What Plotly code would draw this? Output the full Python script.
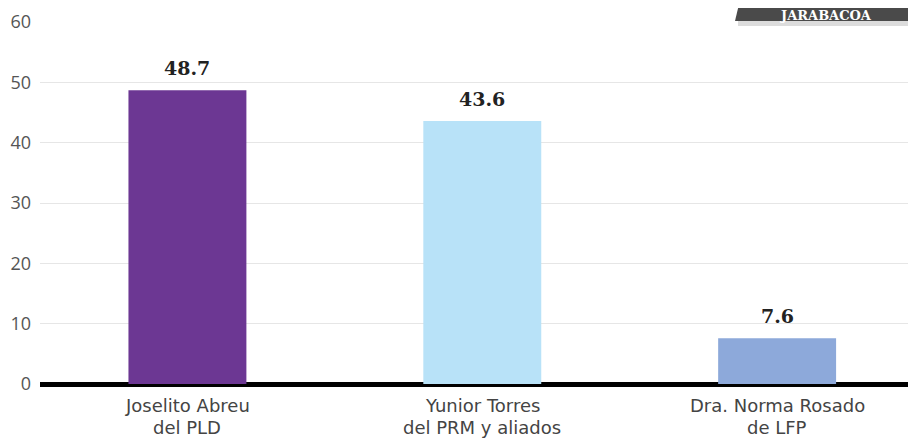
import plotly.graph_objects as go

cat_line1 = ["Joselito Abreu", "Yunior Torres", "Dra. Norma Rosado"]
cat_line2 = ["del PLD", "del PRM y aliados", "de LFP"]
values = [48.7, 43.6, 7.6]
value_labels = ["48.7", "43.6", "7.6"]
colors = ["#6C3793", "#B8E2F8", "#8DA9DA"]
y_ticks = [0, 10, 20, 30, 40, 50, 60]
badge_text = "JARABACOA"

# page body has an 8px margin: figure occupies reference pixels 8..916, 8..442
OFF = 8
W, H = 916 - OFF, 442 - OFF
L, R, T = 40 - OFF, 0, 22 - OFF
B = H - (384 - OFF)
pw, ph = W - L - R, H - T - B

def px_x(x):  # reference pixel -> paper
    return (x - OFF - L) / pw

def px_y(y):
    return (H - B - (y - OFF)) / ph

n = len(values)
fig = go.Figure()
fig.add_trace(go.Bar(
    x=list(range(n)), y=values,
    marker=dict(color=colors, line=dict(width=0)),
    width=0.4, hoverinfo="skip",
))

for i, (v, t) in enumerate(zip(values, value_labels)):
    fig.add_annotation(x=i, y=v, text="<b>%s</b>" % t, showarrow=False,
                       yanchor="bottom", yshift=9,
                       font=dict(family="DejaVu Serif", size=19, color="#222222"))

label_font = dict(family="DejaVu Sans", size=18, color="#444444")
for i in range(n):
    fig.add_annotation(x=i, xref="x", yref="paper", y=px_y(405.5), text=cat_line1[i],
                       showarrow=False, yanchor="middle", font=label_font)
    fig.add_annotation(x=i, xref="x", yref="paper", y=px_y(427), text=cat_line2[i],
                       showarrow=False, yanchor="middle", font=label_font)

# badge
fig.add_shape(type="path", xref="paper", yref="paper",
              path=f"M {px_x(738)} {px_y(26)} L {px_x(916)} {px_y(26)} L {px_x(916)} {px_y(20)} L {px_x(738)} {px_y(20)} Z",
              fillcolor="#dcdcdc", line=dict(width=0), layer="above")
fig.add_shape(type="path", xref="paper", yref="paper",
              path=f"M {px_x(735)} {px_y(21)} L {px_x(914)} {px_y(21)} L {px_x(914)} {px_y(0)} L {px_x(740)} {px_y(0)} Z",
              fillcolor="#4a4a4a", line=dict(width=0), layer="above")
fig.add_annotation(xref="paper", yref="paper", x=px_x(826), y=px_y(15.5),
                   text="<b>%s</b>" % badge_text, showarrow=False,
                   xanchor="center", yanchor="middle",
                   font=dict(family="DejaVu Serif", size=13, color="white"))

fig.update_layout(
    width=W, height=H,
    margin=dict(l=L, r=R, t=T, b=B, pad=0),
    paper_bgcolor="white", plot_bgcolor="white",
    showlegend=False,
    bargap=0.6,
    xaxis=dict(
        tickmode="array", tickvals=list(range(n)), ticktext=[""] * n,
        range=[-0.5, 2.471], showgrid=False, zeroline=False, showline=False,
        ticks="", automargin=False, showticklabels=False,
        fixedrange=True,
    ),
    yaxis=dict(
        range=[0, 60], tickvals=y_ticks, showgrid=True, gridcolor="#e6e6e6", gridwidth=1,
        zeroline=True, zerolinecolor="#000000", zerolinewidth=5,
        showline=False, ticks="", ticklabelstandoff=8, automargin=False,
        tickfont=dict(family="Open Sans", size=18, color="#555555"),
        fixedrange=True,
    ),
)

fig.write_html("out.html")
